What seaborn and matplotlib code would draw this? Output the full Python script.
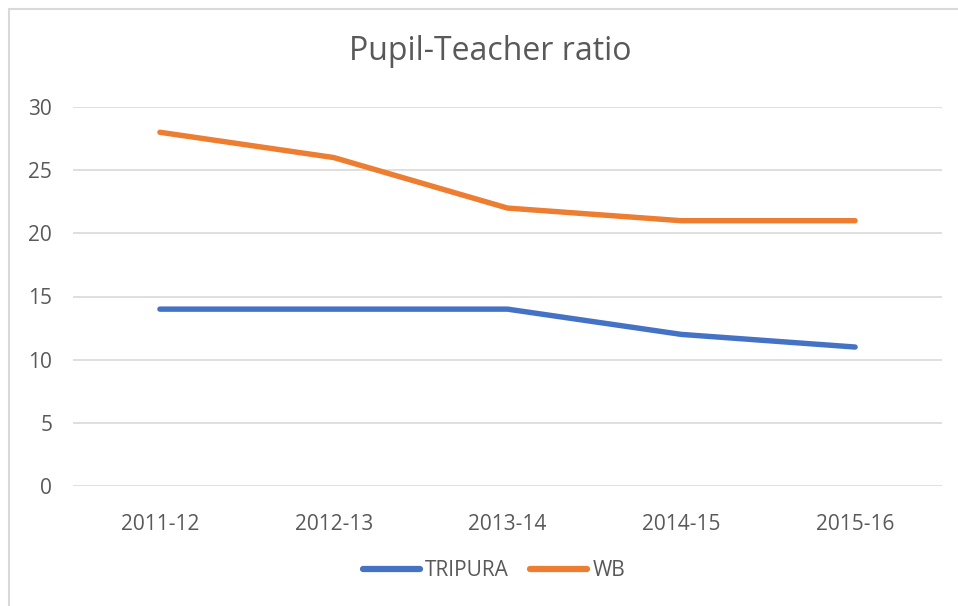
import matplotlib
matplotlib.use("Agg")
import matplotlib.pyplot as plt
import seaborn as sns
import pandas as pd
from matplotlib.patches import Rectangle

years = ["2011-12", "2012-13", "2013-14", "2014-15", "2015-16"]
tripura = [14, 14, 14, 12, 11]
wb = [28, 26, 22, 21, 21]
series_names = ["TRIPURA", "WB"]
yticks = [0, 5, 10, 15, 20, 25, 30]

df = pd.DataFrame({
    "year": years * 2,
    "value": tripura + wb,
    "series": [series_names[0]] * len(years) + [series_names[1]] * len(years),
})

sns.set_theme(style="white")
plt.rcParams["font.family"] = ["Open Sans", "DejaVu Sans"]
text_color = "#595959"

fig = plt.figure(figsize=(9.58, 6.06), dpi=100)
ax = fig.add_axes([73 / 958, 120 / 606, (942 - 73) / 958, (486 - 107) / 606])

# outer chart border (screenshot cropped at right/bottom)
fig.patches.append(Rectangle((9 / 958, -0.1), 1.2, (606 - 8.5) / 606 + 0.1,
                             transform=fig.transFigure, fill=False,
                             edgecolor="#d9d9d9", linewidth=1.5, zorder=0))

palette = {"TRIPURA": "#4472C4", "WB": "#ED7D31"}
sns.lineplot(data=df, x="year", y="value", hue="series", palette=palette,
             linewidth=3.9, ax=ax, sort=False, solid_capstyle="round")

ax.set_xlim(-0.5, len(years) - 0.5)
ax.set_ylim(0, 30)
ax.set_yticks(yticks)
ax.yaxis.grid(True, color="#d9d9d9", linewidth=1.2)
ax.set_axisbelow(True)
for s in ax.spines.values():
    s.set_visible(False)
ax.set_xlabel("")
ax.set_ylabel("")
ax.tick_params(axis="both", length=0, labelsize=15, colors=text_color)
ax.tick_params(axis="x", pad=20)
ax.tick_params(axis="y", pad=15)

fig.text(490 / 958, 1 - 52 / 606, "Pupil-Teacher ratio", ha="center", va="center",
         fontsize=23, color=text_color)

leg = ax.legend(loc="center", bbox_to_anchor=(494 / 958, 1 - 571 / 606),
                bbox_transform=fig.transFigure, ncol=2, frameon=False,
                fontsize=15, handlelength=2.75, handletextpad=0.25,
                columnspacing=1.0, labelcolor=text_color)
for h in leg.get_lines():
    h.set_linewidth(4.5)
    h.set_solid_capstyle("round")

fig.savefig("out.png", dpi=100)
